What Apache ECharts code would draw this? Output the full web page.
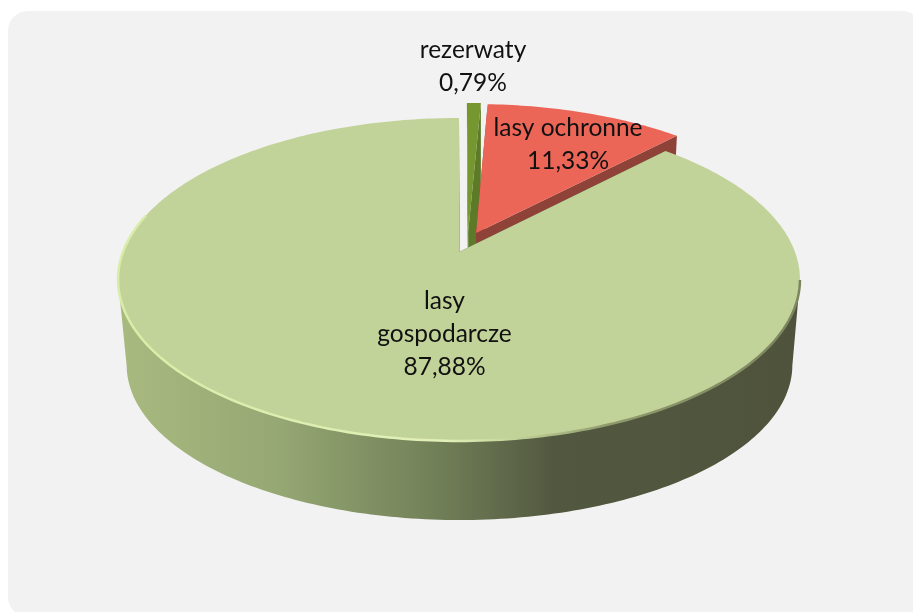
<!DOCTYPE html>
<html>
<head>
<meta charset="utf-8">
<title>lasy</title>
<style>
	html, body { margin: 0; padding: 0; background: #fff; }
	#chart { width: 913px; height: 612px; }
</style>
<script src="https://cdn.jsdelivr.net/npm/echarts@6/dist/echarts.min.js"></script>
</head>
<body>
<div id="chart"></div>
<script>
	var categories = ['rezerwaty', 'lasy ochronne', 'lasy\ngospodarcze'];
	var shares = [0.79, 11.33, 87.88];

	// slice styling and layout, same order as categories
	var topColors = ['#76962f', '#ec6658', '#c2d399'];
	var wallColors = ['#5c7a28', '#8e4238', null];
	var explode = [[0.028, 0.134], [0.052, 0.124], [0, 0]];
	var labelAnchors = [[473, 66.5], [568, 144.5], [444.5, 334.5]];

	// the disc is seen in perspective, so each face is a homography of the unit circle
	var topFace = { x: 459, y: 252, a: 336, b: 156.8, k: 0.17 };
	var bottomFace = { x: 459.5, y: 338.7, a: 328, b: 150.5, k: 0.17 };

	// part of the rim that faces the viewer, in degrees clockwise from the top
	var frontFrom = 100;
	var frontTo = 260;

	var total = shares.reduce(function(s, v) { return s + v; }, 0);
	var starts = [];
	shares.reduce(function(s, v, i) { starts[i] = s; return s + v; }, 0);

	function project(face, deg, radius, off) {
		var t = deg * Math.PI / 180;
		var u = radius * Math.sin(t) + off[0];
		var v = radius * Math.cos(t) + off[1];
		var w = 1 + face.k * v;
		return [face.x + face.a * u / w, face.y - face.b * v / w];
	}

	function arc(face, from, to, off) {
		var pts = [];
		var n = Math.max(2, Math.ceil(Math.abs(to - from)));
		for (var i = 0; i <= n; i++) {
			pts.push(project(face, from + (to - from) * i / n, 1, off));
		}
		return pts;
	}

	function hGradient(x0, x1, stops) {
		return new echarts.graphic.LinearGradient(x0, 0, x1, 0, stops, true);
	}

	// front wall of the big slice goes light to dark from left to right
	var greenWall = hGradient(118, 800, [
		{ offset: 0, color: '#a9ba80' },
		{ offset: 0.24, color: '#95a773' },
		{ offset: 0.48, color: '#6f7d56' },
		{ offset: 0.64, color: '#525840' },
		{ offset: 1, color: '#4f533c' }
	]);
	var rimStroke = hGradient(118, 800, [
		{ offset: 0, color: '#d9eda8' },
		{ offset: 0.48, color: '#e2f0b8' },
		{ offset: 0.58, color: '#c3d49a' },
		{ offset: 0.72, color: '#8f9a6c' },
		{ offset: 1, color: '#7c8460' }
	]);

	function renderSlice(params, api) {
		var i = params.dataIndex;
		var from = starts[i] / total * 360;
		var to = from + api.value(1) / total * 360;
		var off = explode[i];
		var fill = wallColors[i] || greenWall;
		var apexTop = project(topFace, 0, 0, off);
		var apexBottom = project(bottomFace, 0, 0, off);
		var topArc = arc(topFace, from, to, off);
		var children = [];

		// only the front of the rim, a strip past the silhouette would fold over itself
		var wallFrom = Math.max(from, frontFrom);
		var wallTo = Math.min(to, frontTo);
		if (wallTo > wallFrom) {
			children.push({
				type: 'polygon',
				shape: { points: arc(topFace, wallFrom, wallTo, off).concat(arc(bottomFace, wallFrom, wallTo, off).reverse()) },
				style: { fill: fill }
			});
		}
		[from, to].forEach(function(deg) {
			children.push({
				type: 'polygon',
				shape: { points: [apexTop, project(topFace, deg, 1, off), project(bottomFace, deg, 1, off), apexBottom] },
				style: { fill: fill }
			});
		});
		children.push({
			type: 'polygon',
			shape: { points: [apexTop].concat(topArc) },
			style: { fill: topColors[i] }
		});

		// bevel along the front of the rim
		if (wallTo > wallFrom) {
			children.push({
				type: 'polyline',
				shape: { points: arc(topFace, wallFrom, wallTo + 24, off) },
				style: { fill: null, stroke: rimStroke, lineWidth: 2.5 }
			});
		}

		var anchor = labelAnchors[i];
		children.push({
			type: 'text',
			z2: 10,
			style: {
				text: categories[i] + '\n' + api.value(1).toFixed(2).replace('.', ',') + '%',
				x: anchor[0],
				y: anchor[1],
				align: 'center',
				verticalAlign: 'middle',
				font: '24.5px Lato',
				lineHeight: 33,
				fill: '#111'
			}
		});
		return { type: 'group', children: children };
	}

	var chart = echarts.init(document.getElementById('chart'));
	chart.setOption({
		animation: false,
		graphic: [{
			type: 'rect',
			z: -10,
			silent: true,
			shape: { x: 8, y: 11, width: 914, height: 606, r: 20 },
			style: { fill: '#f2f2f2' }
		}],
		series: [{
			type: 'custom',
			coordinateSystem: 'none',
			silent: true,
			renderItem: renderSlice,
			data: shares.map(function(v, i) { return [i, v]; })
		}]
	});
</script>
</body>
</html>
